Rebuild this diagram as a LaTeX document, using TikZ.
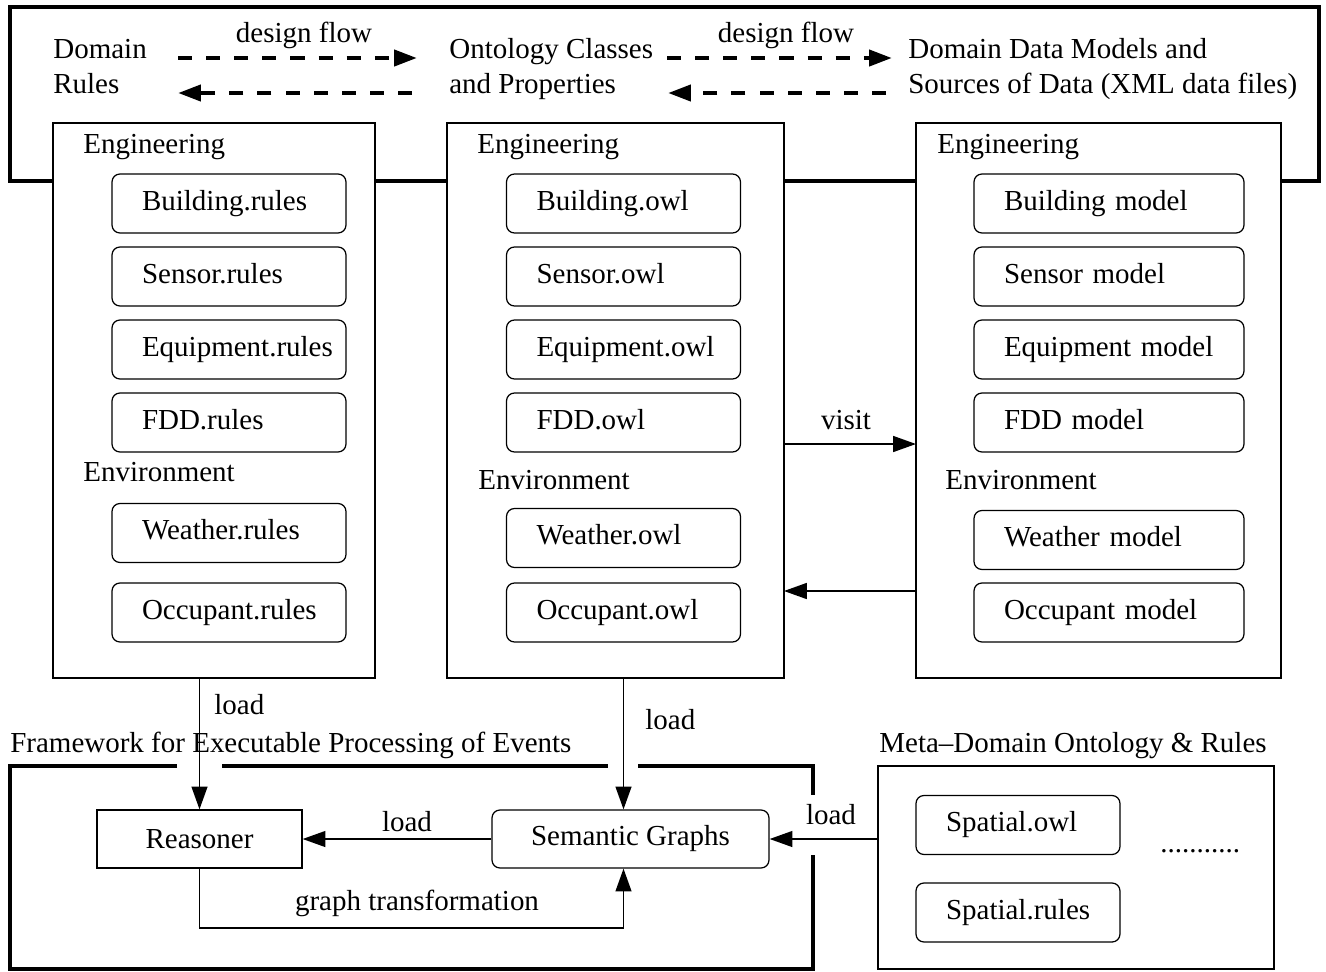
\documentclass[tikz,border=0pt]{standalone}
\usepackage{fontspec}
\setmainfont{Liberation Serif}
\usepackage{tikz}
\usetikzlibrary{arrows.meta}

\begin{document}
\begin{tikzpicture}[x=0.02cm,y=-0.02cm,
        font=\fontsize{16.5pt}{19.85pt}\selectfont,
        txt/.style={inner sep=0pt,anchor=base west},
        thickframe/.style={line width=2.5pt},
        colbox/.style={draw,line width=0.7pt,fill=white,anchor=north west,minimum height=11.1cm,inner sep=0pt,outer sep=0pt},
        filebox/.style={draw,line width=0.7pt,rounded corners=4.5pt,minimum height=1.18cm,inner xsep=0.6cm,inner ysep=0pt,outer sep=0pt,align=left,text width=3.48cm,text height=12pt,text depth=4.6pt},
        widefilebox/.style={filebox,text width=4.2cm},
        arrowline/.style={line width=1.1pt,-{Triangle[length=13pt,width=9pt]}},
        flowline/.style={line width=2.5pt,dash pattern=on 8pt off 8pt,-{Triangle[length=13pt,width=9pt]}}]
        \useasboundingbox (0,0) rectangle (1326,971);

        \draw[thickframe] (10,7) rectangle (1319,181);

        \node[txt,align=left] (domrules) at (53,93) {Domain\\Rules};
        \node[txt,align=left] (ontclasses) at (449,93) {Ontology Classes\\and Properties};
        \node[txt,align=left] (datamodels) at (908,93) {Domain Data Models and\\Sources of Data (XML data files)};

        \coordinate (flowa) at (178,58);
        \coordinate (flowb) at (417,58);
        \coordinate (flowc) at (412,93);
        \coordinate (flowd) at (178,93);
        \coordinate (flowe) at (667,58);
        \coordinate (flowf) at (892,58);
        \coordinate (flowg) at (886,93);
        \coordinate (flowh) at (668,93);
        \draw[flowline] (flowa) -- (flowb);
        \draw[flowline] (flowc) -- (flowd);
        \draw[flowline] (flowe) -- (flowf);
        \draw[flowline] (flowg) -- (flowh);
        \node[txt,anchor=base] (flowlbla) at (304,42) {design flow};
        \node[txt,anchor=base] (flowlblb) at (786,42) {design flow};

        \node[colbox,minimum width=6.44cm] (rulesbox) at (53,123) {};
        \node[colbox,minimum width=6.74cm] (owlbox) at (447,123) {};
        \node[colbox,minimum width=7.3cm] (modelbox) at (916,123) {};

        \node[txt] (ruleseng) at (83,153) {Engineering};
        \node[txt] (owleng) at (477,153) {Engineering};
        \node[txt] (modeleng) at (937,153) {Engineering};
        \node[txt] (rulesenv) at (83,481) {Environment};
        \node[txt] (owlenv) at (478,489) {Environment};
        \node[txt] (modelenv) at (945,489) {Environment};

        \node[filebox] (buildingrules) at (229,203.5) {Building.rules};
        \node[filebox] (sensorrules) at (229,276.5) {Sensor.rules};
        \node[filebox] (equipmentrules) at (229,349.5) {Equipment.rules};
        \node[filebox] (fddrules) at (229,422.5) {FDD.rules};
        \node[filebox] (weatherrules) at (229,533) {Weather.rules};
        \node[filebox] (occupantrules) at (229,612.5) {Occupant.rules};

        \node[filebox] (buildingowl) at (623.5,203.5) {Building.owl};
        \node[filebox] (sensorowl) at (623.5,276.5) {Sensor.owl};
        \node[filebox] (equipmentowl) at (623.5,349.5) {Equipment.owl};
        \node[filebox] (fddowl) at (623.5,422.5) {FDD.owl};
        \node[filebox] (weatherowl) at (623.5,538) {Weather.owl};
        \node[filebox] (occupantowl) at (623.5,612.5) {Occupant.owl};

        \node[widefilebox] (buildingmodel) at (1109,203.5) {Building model};
        \node[widefilebox] (sensormodel) at (1109,276.5) {Sensor model};
        \node[widefilebox] (equipmentmodel) at (1109,349.5) {Equipment model};
        \node[widefilebox] (fddmodel) at (1109,422.5) {FDD model};
        \node[widefilebox] (weathermodel) at (1109,540) {Weather model};
        \node[widefilebox] (occupantmodel) at (1109,612.5) {Occupant model};

        \draw[arrowline] (owlbox.east |- 0,444) -- (modelbox.west |- 0,444);
        \draw[arrowline] (modelbox.west |- 0,591) -- (owlbox.east |- 0,591);
        \node[txt,anchor=base] (visitlbl) at (846,429) {visit};

        \draw[thickframe] (177,766) -- (10,766) -- (10,969) -- (813,969) -- (813,855);
        \draw[thickframe] (222,766) -- (608,766);
        \draw[thickframe] (638,766) -- (813,766) -- (813,795);
        \node[txt] (framelbl) at (10,752) {Framework for Executable Processing of Events};

        \node[draw,line width=0.7pt,minimum width=4.1cm,minimum height=1.16cm,inner sep=0pt] (reasoner) at (199.5,839) {Reasoner};
        \node[draw,line width=0.7pt,rounded corners=4.5pt,minimum width=5.54cm,minimum height=1.16cm,inner sep=0pt] (semgraph) at (630.5,839) {Semantic Graphs};

        \node[draw,line width=0.7pt,anchor=north west,minimum width=7.92cm,minimum height=4.06cm,inner sep=0pt,outer sep=0pt] (metabox) at (878,766) {};
        \node[txt] (metalbl) at (879,752) {Meta--Domain Ontology \& Rules};
        \node[filebox,text width=2.88cm] (spatialowl) at (1018,825) {Spatial.owl};
        \node[filebox,text width=2.88cm] (spatialrules) at (1018,912.5) {Spatial.rules};
        \node[txt] (moredots) at (1160,852) {...........};

        \draw[arrowline] (rulesbox.south -| reasoner.north) -- (reasoner.north);
        \draw[arrowline] (owlbox.south -| fddowl) -- (semgraph.north -| fddowl);
        \draw[arrowline] (semgraph.west) -- (reasoner.east);
        \draw[arrowline] (reasoner.south) -- ++(0,59) -| (semgraph.south -| fddowl);
        \draw[arrowline] (metabox.west |- semgraph) -- (semgraph.east);

        \node[txt] (loadrules) at (214,714) {load};
        \node[txt] (loadowl) at (645,729) {load};
        \node[txt,anchor=base] (loadgraph) at (407,831) {load};
        \node[txt,anchor=base] (loadmeta) at (831,824) {load};
        \node[txt,anchor=base] (transformlbl) at (417,910) {graph transformation};
    \end{tikzpicture}
\end{document}
